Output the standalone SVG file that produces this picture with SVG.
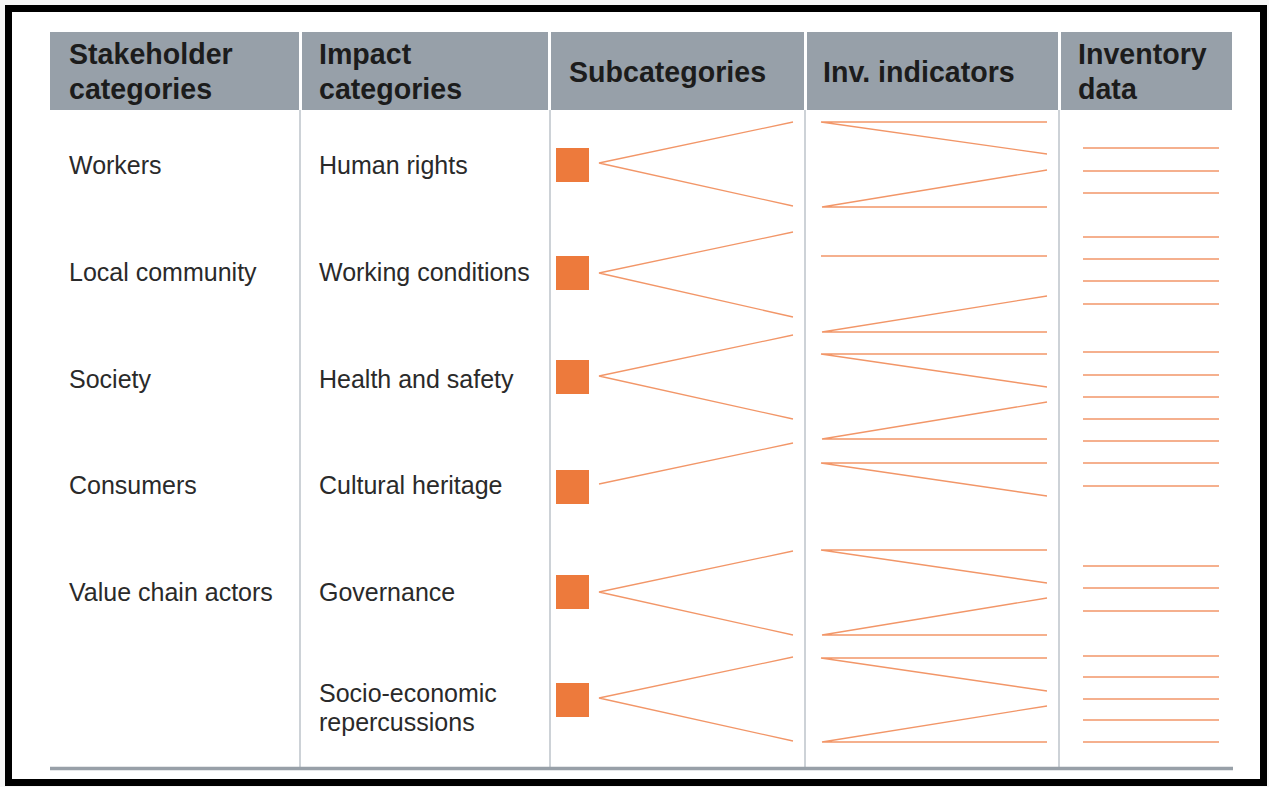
<svg xmlns="http://www.w3.org/2000/svg" width="1269" height="787" viewBox="0 0 1269 787">
<style>
.hd{fill:#97a0a9}
.ht{font-family:"Liberation Sans",Arial,sans-serif;font-weight:bold;font-size:28.6px;fill:#1c1c1c}
.bt{font-family:"Liberation Sans",Arial,sans-serif;font-size:25px;fill:#2a2a2a}
.sep{stroke:#bcc3ca;stroke-width:1.5}
.sq{fill:#ed7a3c}
.ln{stroke:#f29668;stroke-width:1.3;fill:none}
</style>
<rect x="0" y="0" width="1269" height="787" fill="#f7f7f7"/>
<rect x="8.5" y="8.5" width="1255" height="774" fill="#ffffff" stroke="#000000" stroke-width="7"/>
<g id="header">
<g id="h-stakeholder"><rect class="hd" x="50" y="32" width="249" height="78"/><text class="ht" x="69" y="64">Stakeholder</text><text class="ht" x="69" y="99">categories</text></g>
<g id="h-impact"><rect class="hd" x="302" y="32" width="246" height="78"/><text class="ht" x="319" y="64">Impact</text><text class="ht" x="319" y="99">categories</text></g>
<g id="h-sub"><rect class="hd" x="551" y="32" width="253" height="78"/><text class="ht" x="569" y="82">Subcategories</text></g>
<g id="h-inv"><rect class="hd" x="807" y="32" width="251" height="78"/><text class="ht" x="823" y="82">Inv. indicators</text></g>
<g id="h-data"><rect class="hd" x="1061" y="32" width="171" height="78"/><text class="ht" x="1078" y="64">Inventory</text><text class="ht" x="1078" y="99">data</text></g>
</g>
<g id="grid">
<line class="sep" x1="300" y1="110" x2="300" y2="768"/>
<line class="sep" x1="550" y1="110" x2="550" y2="768"/>
<line class="sep" x1="805" y1="110" x2="805" y2="768"/>
<line class="sep" x1="1059" y1="110" x2="1059" y2="768"/>
<line x1="50" y1="768.5" x2="1233" y2="768.5" stroke="#98a0a8" stroke-width="3.5"/>
</g>
<g id="stakeholders">
<text id="s-workers" class="bt" x="69" y="174">Workers</text>
<text id="s-local" class="bt" x="69" y="281">Local community</text>
<text id="s-society" class="bt" x="69" y="388">Society</text>
<text id="s-consumers" class="bt" x="69" y="494">Consumers</text>
<text id="s-value" class="bt" x="69" y="601">Value chain actors</text>
</g>
<g id="impacts">
<text id="i-human" class="bt" x="319" y="174">Human rights</text>
<text id="i-working" class="bt" x="319" y="281">Working conditions</text>
<text id="i-health" class="bt" x="319" y="388">Health and safety</text>
<text id="i-cultural" class="bt" x="319" y="494">Cultural heritage</text>
<text id="i-gov" class="bt" x="319" y="601">Governance</text>
<text id="i-socio" class="bt" x="319" y="702">Socio-economic<tspan x="319" y="731">repercussions</tspan></text>
</g>
<g id="subcategories">
<rect id="sq1" class="sq" x="556" y="148" width="33" height="34"/>
<rect id="sq2" class="sq" x="556" y="256" width="33" height="34"/>
<rect id="sq3" class="sq" x="556" y="360" width="33" height="34"/>
<rect id="sq4" class="sq" x="556" y="470" width="33" height="34"/>
<rect id="sq5" class="sq" x="556" y="575" width="33" height="34"/>
<rect id="sq6" class="sq" x="556" y="683" width="33" height="34"/>
</g>
<g id="connectors">
<polyline class="ln" points="793,122 599,163 793,206"/>
<polyline class="ln" points="793,232 599,273 793,317"/>
<polyline class="ln" points="793,335 599,376 793,419"/>
<polyline class="ln" points="793,443 599,484"/>
<polyline class="ln" points="793,551 599,592 793,635"/>
<polyline class="ln" points="793,657 599,698 793,741"/>
<polyline class="ln" points="1047,122 821,122 1047,154"/>
<polyline class="ln" points="1047,170 822,207 1047,207"/>
<line class="ln" x1="821" y1="256" x2="1047" y2="256"/>
<polyline class="ln" points="1047,296 822,332 1047,332"/>
<polyline class="ln" points="1047,354 821,354 1047,387"/>
<polyline class="ln" points="1047,402 822,439 1047,439"/>
<polyline class="ln" points="1047,463 821,463 1047,496"/>
<polyline class="ln" points="1047,550 821,550 1047,583"/>
<polyline class="ln" points="1047,598 822,635 1047,635"/>
<polyline class="ln" points="1047,658 821,658 1047,691"/>
<polyline class="ln" points="1047,706 822,742 1047,742"/>
</g>
<g id="inventory-data" class="ln">
<line x1="1083" y1="148" x2="1219" y2="148"/>
<line x1="1083" y1="171" x2="1219" y2="171"/>
<line x1="1083" y1="193" x2="1219" y2="193"/>
<line x1="1083" y1="237" x2="1219" y2="237"/>
<line x1="1083" y1="259" x2="1219" y2="259"/>
<line x1="1083" y1="281" x2="1219" y2="281"/>
<line x1="1083" y1="304" x2="1219" y2="304"/>
<line x1="1083" y1="352" x2="1219" y2="352"/>
<line x1="1083" y1="375" x2="1219" y2="375"/>
<line x1="1083" y1="397" x2="1219" y2="397"/>
<line x1="1083" y1="419" x2="1219" y2="419"/>
<line x1="1083" y1="441" x2="1219" y2="441"/>
<line x1="1083" y1="463" x2="1219" y2="463"/>
<line x1="1083" y1="486" x2="1219" y2="486"/>
<line x1="1083" y1="566" x2="1219" y2="566"/>
<line x1="1083" y1="588" x2="1219" y2="588"/>
<line x1="1083" y1="611" x2="1219" y2="611"/>
<line x1="1083" y1="656" x2="1219" y2="656"/>
<line x1="1083" y1="677" x2="1219" y2="677"/>
<line x1="1083" y1="699" x2="1219" y2="699"/>
<line x1="1083" y1="720" x2="1219" y2="720"/>
<line x1="1083" y1="742" x2="1219" y2="742"/>
</g>
</svg>
